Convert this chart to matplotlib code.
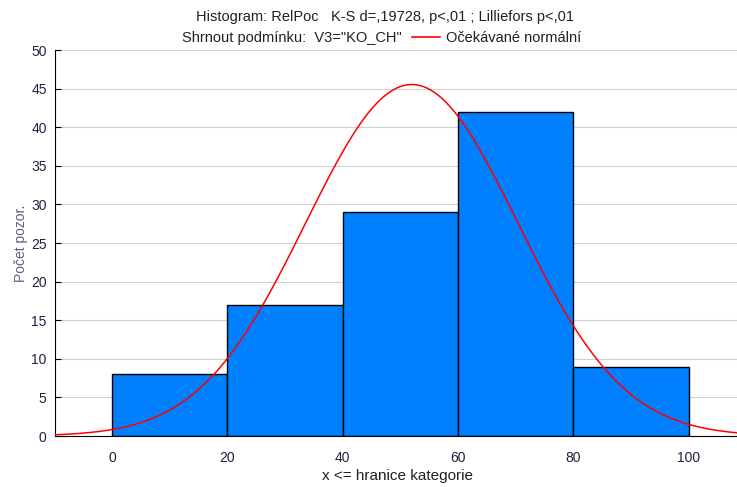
import numpy as np
import matplotlib as mpl
mpl.use('Agg')
import matplotlib.pyplot as plt

# histogram data
bin_edges = [0, 20, 40, 60, 80, 100]
counts = [8, 17, 29, 42, 9]
# parameters of the fitted normal curve
norm_mean = 52.0
norm_sd = 18.4
n_total = sum(counts)
bin_width = 20

plt.rcParams['font.family'] = ['Liberation Sans', 'DejaVu Sans']

fig = plt.figure(figsize=(7.37, 4.87), dpi=100)
ax = fig.add_axes([0.0746, 0.1047, 0.93, 0.7926])

ax.bar(bin_edges[:-1], counts, width=bin_width, align='edge',
       color='#0080ff', edgecolor='black', linewidth=1.0, zorder=2)

xs = np.linspace(-10, 110, 600)
ys = n_total * bin_width / (norm_sd * np.sqrt(2 * np.pi)) * \
    np.exp(-0.5 * ((xs - norm_mean) / norm_sd) ** 2)
ax.plot(xs, ys, color='red', linewidth=1.1, zorder=3)

ax.set_xlim(-9.9, 109)
ax.set_ylim(0, 50)
ax.set_yticks(range(0, 51, 5))
ax.set_xticks(range(0, 101, 20))
ax.grid(axis='y', color='#d0d0d0', linewidth=0.8, zorder=0)
ax.set_axisbelow(True)
ax.tick_params(axis='y', direction='in', length=4, labelsize=10,
               labelcolor='#202040', pad=6)
ax.tick_params(axis='x', length=0, labelsize=10, labelcolor='#202040', pad=11)
ax.spines['right'].set_visible(False)
ax.spines['top'].set_visible(False)
ax.set_ylabel('Počet pozor.', fontsize=10, color='#606080', labelpad=2)
ax.set_xlabel('x <= hranice kategorie', fontsize=11, color='#202020',
              labelpad=3)

fig.text(0.522, 0.966, 'Histogram: RelPoc   K-S d=,19728, p<,01 ; Lilliefors p<,01',
         ha='center', va='center', fontsize=10.5, color='#202020')
fig.text(0.247, 0.922, 'Shrnout podmínku:  V3="KO_CH"', ha='left',
         va='center', fontsize=10.5, color='#202020')
fig.lines.append(plt.Line2D([0.559, 0.597], [0.924, 0.924], color='red',
                            linewidth=1.2, transform=fig.transFigure))
fig.text(0.605, 0.922, 'Očekávané normální', ha='left', va='center',
         fontsize=10.5, color='#202020')

fig.savefig('out.png', dpi=100)
